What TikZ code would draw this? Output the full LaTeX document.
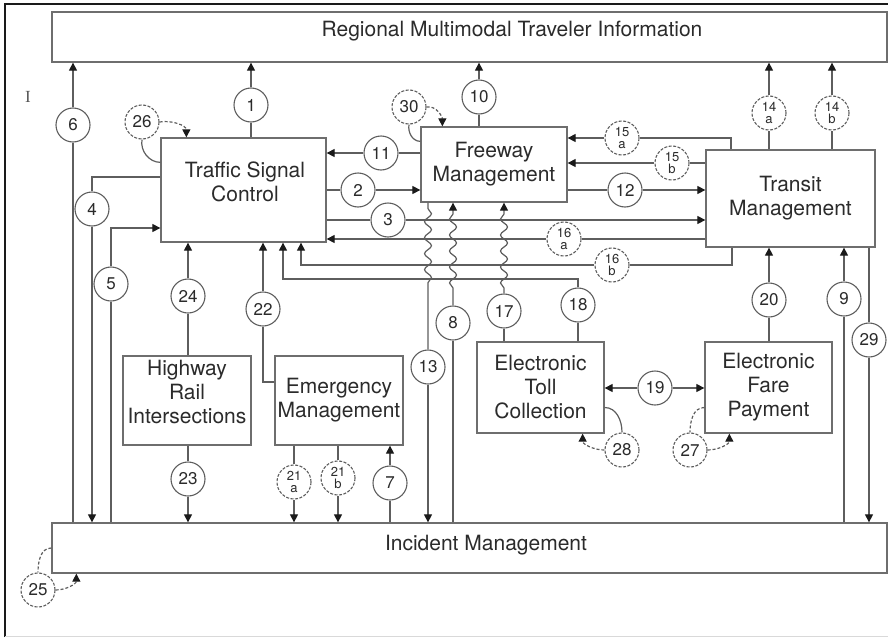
\documentclass[tikz,border=0pt]{standalone}
\usepackage{fontspec}
\setmainfont{TeX Gyre Heros}
\newfontfamily\serifmark{Liberation Serif}
\usetikzlibrary{arrows.meta,decorations.pathmorphing}
\definecolor{flowgray}{HTML}{5E5E5E}
\definecolor{boxgray}{HTML}{6E6E6E}
\definecolor{textink}{HTML}{2B2B2B}
\definecolor{tipink}{HTML}{1A1A1A}

\begin{document}
\begin{tikzpicture}[
  x=1pt,
  y=-1pt,
  every node/.style={textink},
  unit/.style={draw=boxgray, line width=1.3pt, fill=white, inner sep=0pt,
               font=\fontsize{21}{24}\selectfont, align=center},
  unitlabel/.style={inner sep=0pt, font=\fontsize{21}{24}\selectfont, align=center},
  numb/.style={circle, draw=flowgray, line width=1.1pt, fill=white,
               minimum size=34pt, inner sep=0pt, font=\fontsize{17}{17}\selectfont},
  numbd/.style={numb, dash pattern=on 3pt off 1.5pt},
  numbab/.style={numbd, align=center, font=\fontsize{13}{12.5}\selectfont},
  flow/.style={flowgray, line width=1.2pt},
  dflow/.style={flow, dash pattern=on 3pt off 2pt},
  arr/.style={flow, -{Triangle[length=8pt, width=8pt, color=tipink]}},
  darr/.style={dflow, -{Triangle[length=8pt, width=8pt, color=tipink]}},
  wavy/.style={decoration={snake, segment length=16pt, amplitude=3.5pt}}
]
  \useasboundingbox (0,0) rectangle (888,637);

  %% ---- page frame ----------------------------------------------------------
  \draw[tipink, line width=2.5pt] (5,637) -- (5,4) -- (888,4);
  \draw[black!15, line width=1pt] (5,636) -- (888,636);
  \node[font=\serifmark\fontsize{17}{17}\selectfont, textink!80] (mark) at (28,97) {I};

  %% ---- units ---------------------------------------------------------------
  \node[unit, minimum width=835, minimum height=50] (rmt) at (469.5,37) {};
  \node[unitlabel] (rmtlabel) at (512,31) {Regional Multimodal Traveler Information};

  \node[unit, minimum width=835, minimum height=50] (inc) at (469.5,548) {};
  \node[unitlabel] (inclabel) at (486,545) {Incident Management};

  \node[unit, minimum width=165, minimum height=104] (tsc) at (243.5,190) {};
  \node[unitlabel] (tsclabel) at (245,182) {Traffic Signal\\Control};

  \node[unit, minimum width=146, minimum height=75] (fwy) at (494,164.5) {Freeway\\Management};
  \node[unit, minimum width=169, minimum height=97] (tra) at (790.5,198.5) {Transit\\Management};

  \node[unit, minimum width=128, minimum height=89] (hri) at (187,400.5) {};
  \node[unitlabel] (hrilabel) at (187,392) {Highway\\Rail\\Intersections};

  \node[unit, minimum width=128, minimum height=89] (emg) at (339,400.5) {Emergency\\Management};
  \node[unit, minimum width=127, minimum height=91] (etc) at (540.5,387.5) {Electronic\\Toll\\Collection};
  \node[unit, minimum width=127, minimum height=91] (efp) at (768.5,387.5) {Electronic\\Fare\\Payment};

  %% ---- flow numbers --------------------------------------------------------
  \node[numb] (c1) at (251,105) {1};
  \node[numb] (c2) at (358,190) {2};
  \node[numb] (c3) at (388,220) {3};
  \node[numb] (c4) at (92,209) {4};
  \node[numb] (c5) at (111,284) {5};
  \node[numb] (c6) at (73,125) {6};
  \node[numb] (c7) at (390,483) {7};
  \node[numb] (c8) at (453,323) {8};
  \node[numb] (c9) at (844,299) {9};
  \node[numb] (c10) at (479,97) {10};
  \node[numb] (c11) at (381,153) {11};
  \node[numb] (c12) at (625,190) {12};
  \node[numb] (c13) at (428,367) {13};
  \node[numbab] (c14a) at (769,113) {14\\a};
  \node[numbab] (c14b) at (832,113) {14\\b};
  \node[numbab] (c15a) at (622,138) {15\\a};
  \node[numbab] (c15b) at (672,163) {15\\b};
  \node[numbab] (c16a) at (564,239) {16\\a};
  \node[numbab] (c16b) at (612,265) {16\\b};
  \node[numb] (c17) at (504,311) {17};
  \node[numb] (c18) at (578,305) {18};
  \node[numb] (c19) at (655,388) {19};
  \node[numb] (c20) at (769,300) {20};
  \node[numbab] (c21a) at (294,482) {21\\a};
  \node[numbab] (c21b) at (338,478) {21\\b};
  \node[numb] (c22) at (263,309) {22};
  \node[numb] (c23) at (188,479) {23};
  \node[numb] (c24) at (188,296) {24};
  \node[numbd] (c25) at (38,590) {25};
  \node[numbd] (c26) at (142,122) {26};
  \node[numbd] (c27) at (690,450) {27};
  \node[numbd] (c28) at (622,450) {28};
  \node[numb] (c29) at (869,340) {29};
  \node[numbd] (c30) at (409,107) {30};

  \coordinate (k4) at (92,177);
  \coordinate (k5) at (111,228);
  \coordinate (k15a) at (731,138);
  \coordinate (k16b) at (732,265);
  \coordinate (j16b) at (301,265);
  \coordinate (j18) at (283,279);
  \coordinate (k22) at (263,382);

  %% ---- up to regional information ------------------------------------------
  \draw[flow] (tsc.north -| c1) -- (c1);
  \draw[arr] (c1) -- (c1 |- rmt.south);
  \draw[flow] (inc.north -| c6) -- (c6);
  \draw[arr] (c6) -- (c6 |- rmt.south);
  \draw[flow] (fwy.north -| c10) -- (c10);
  \draw[arr] (c10) -- (c10 |- rmt.south);
  \draw[flow] (tra.north -| c14a) -- (c14a);
  \draw[arr] (c14a) -- (c14a |- rmt.south);
  \draw[flow] (tra.north -| c14b) -- (c14b);
  \draw[arr] (c14b) -- (c14b |- rmt.south);

  %% ---- signal / freeway / transit ------------------------------------------
  \draw[flow] (fwy.west |- c11) -- (c11);
  \draw[arr] (c11) -- (c11 -| tsc.east);
  \draw[flow] (tsc.east |- c2) -- (c2);
  \draw[arr] (c2) -- (c2 -| fwy.west);
  \draw[flow] (tsc.east |- c3) -- (c3);
  \draw[arr] (c3) -- (c3 -| tra.west);
  \draw[flow] (fwy.east |- c12) -- (c12);
  \draw[arr] (c12) -- (c12 -| tra.west);
  \draw[flow] (tra.north -| k15a) -- (k15a) -- (c15a);
  \draw[arr] (c15a) -- (c15a -| fwy.east);
  \draw[flow] (tra.west |- c15b) -- (c15b);
  \draw[arr] (c15b) -- (c15b -| fwy.east);
  \draw[flow] (tra.west |- c16a) -- (c16a);
  \draw[arr] (c16a) -- (c16a -| tsc.east);
  \draw[flow] (tra.south -| k16b) -- (k16b) -- (c16b);
  \draw[arr] (c16b) -- (j16b) -- (j16b |- tsc.south);

  %% ---- into signal control from below ---------------------------------------
  \draw[flow] (tsc.west |- k4) -- (k4) -- (c4);
  \draw[arr] (c4) -- (c4 |- inc.north);
  \draw[flow] (inc.north -| c5) -- (c5);
  \draw[arr] (c5) -- (k5) -- (k5 -| tsc.west);
  \draw[flow] (hri.north -| c24) -- (c24);
  \draw[arr] (c24) -- (c24 |- tsc.south);
  \draw[flow] (emg.west |- k22) -- (k22) -- (c22);
  \draw[arr] (c22) -- (c22 |- tsc.south);
  \draw[flow] (etc.north -| c18) -- (c18);
  \draw[arr] (c18) -- (c18 |- j18) -- (j18) -- (j18 |- tsc.south);

  %% ---- freeway verticals, hopping the crossings ----------------------------
  \draw[flow] (fwy.south -| c13) -- ++(0,6) decorate[wavy] {-- ++(0,80)} -- (c13);
  \draw[arr] (c13) -- (c13 |- inc.north);
  \draw[flow] (inc.north -| c8) -- (c8);
  \draw[arr] (c8) -- ++(0,-35) decorate[wavy] {-- ++(0,-78)} -- (c8 |- fwy.south);
  \draw[flow] (etc.north -| c17) -- (c17);
  \draw[arr] (c17) -- ++(0,-23) decorate[wavy] {-- ++(0,-78)} -- (c17 |- fwy.south);

  %% ---- payment and transit -------------------------------------------------
  \draw[arr] (c19) -- (c19 -| etc.east);
  \draw[arr] (c19) -- (c19 -| efp.west);
  \draw[flow] (efp.north -| c20) -- (c20);
  \draw[arr] (c20) -- (c20 |- tra.south);
  \draw[flow] (inc.north -| c9) -- (c9);
  \draw[arr] (c9) -- (c9 |- tra.south);
  \draw[flow] (tra.south -| c29) -- (c29);
  \draw[arr] (c29) -- (c29 |- inc.north);

  %% ---- down to incident management -----------------------------------------
  \draw[flow] (inc.north -| c7) -- (c7);
  \draw[arr] (c7) -- (c7 |- emg.south);
  \draw[flow] (emg.south -| c21a) -- (c21a);
  \draw[arr] (c21a) -- (c21a |- inc.north);
  \draw[flow] (emg.south -| c21b) -- (c21b);
  \draw[arr] (c21b) -- (c21b |- inc.north);
  \draw[flow] (hri.south -| c23) -- (c23);
  \draw[arr] (c23) -- (c23 |- inc.north);

  %% ---- self loops ----------------------------------------------------------
  \draw[flow] ([yshift=-25pt]tsc.north west) to[out=180, in=-100] (c26.south);
  \draw[darr] (c26.east) to[out=10, in=90] ([xshift=26pt]tsc.north west);
  \draw[flow] ([yshift=-15pt]fwy.north west) to[out=180, in=-100] (c30.south);
  \draw[darr] (c30.east) to[out=10, in=90] ([xshift=22pt]fwy.north west);
  \draw[flow] ([yshift=-20pt]etc.east) to[out=0, in=90] (c28.north);
  \draw[darr] (c28.west) to[out=180, in=-90] ([xshift=-22pt]etc.south east);
  \draw[dflow] ([yshift=-20pt]efp.west) to[out=180, in=90] (c27.north);
  \draw[darr] (c27.east) to[out=0, in=-90] ([xshift=25pt]efp.south west);
  \draw[dflow] (inc.west) to[out=180, in=90] (c25.north);
  \draw[darr] (c25.east) to[out=0, in=-90] ([xshift=25pt]inc.south west);
\end{tikzpicture}
\end{document}
